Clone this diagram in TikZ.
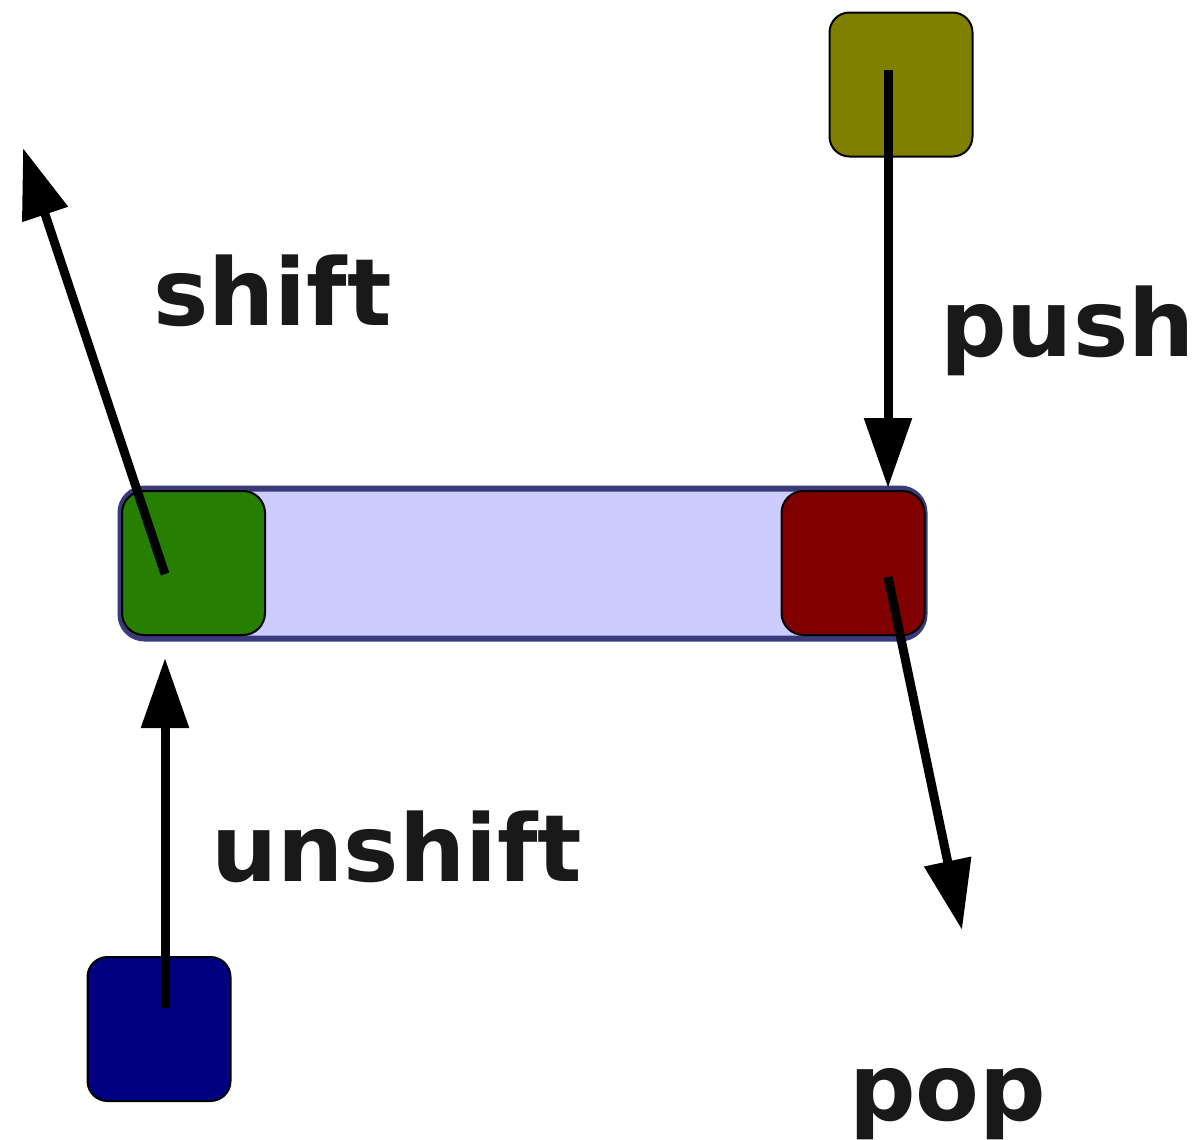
\documentclass[tikz,border=0pt]{standalone}
\usepackage{fontspec}
\setmainfont{DejaVu Sans}
\usetikzlibrary{arrows.meta}
\definecolor{barfill}{HTML}{CCCCFF}
\definecolor{barline}{HTML}{3A3A7A}
\definecolor{cgreen}{HTML}{267F00}
\definecolor{cred}{HTML}{800000}
\definecolor{colive}{HTML}{808000}
\definecolor{cnavy}{HTML}{000080}
\begin{document}
\begin{tikzpicture}[x=0.5pt,y=-0.5pt,
  box/.style={draw=black,line width=1pt,rounded corners=11pt,minimum width=71.5pt,minimum height=72pt,inner sep=0pt},
  arr/.style={line width=4.5pt,-{Triangle[length=35pt,width=23pt]}},
  lab/.style={anchor=base west,inner sep=0pt,font=\fontsize{46.5}{50}\selectfont\bfseries}]
\useasboundingbox (0,0) rectangle (1200,1140);
\node[draw=barline,fill=barfill,line width=3pt,rounded corners=12pt,minimum width=402pt,minimum height=75pt,inner sep=0pt] (bar) at (522.5,563.5) {};
\node[box,fill=cgreen] (green) at (193.5,563) {};
\node[box,fill=cred] (red) at (853,563) {};
\node[box,fill=colive,rounded corners=10pt] (olive) at (901,84.5) {};
\node[box,fill=cnavy,rounded corners=10pt] (navy) at (159,1029) {};
\coordinate (shiftend) at (23,148);
\coordinate (pushend) at (888,488);
\coordinate (unshiftend) at (165,658);
\coordinate (popend) at (962,930);
\coordinate (gin) at (165,574);
\coordinate (oin) at (888,70);
\coordinate (nin) at (165,1008);
\coordinate (rin) at (888,577);
\draw[arr] (gin) -- (shiftend);
\draw[arr] (oin) -- (pushend);
\draw[arr] (nin) -- (unshiftend);
\draw[arr] (rin) -- (popend);
\node[lab,text=black!90] (shift) at (153,325) {shift};
\node[lab,text=black!90] (push) at (940,356) {push};
\node[lab,text=black!90] (unshift) at (211,881) {unshift};
\node[lab,text=black!90] (pop) at (849,1120) {pop};
\end{tikzpicture}
\end{document}
